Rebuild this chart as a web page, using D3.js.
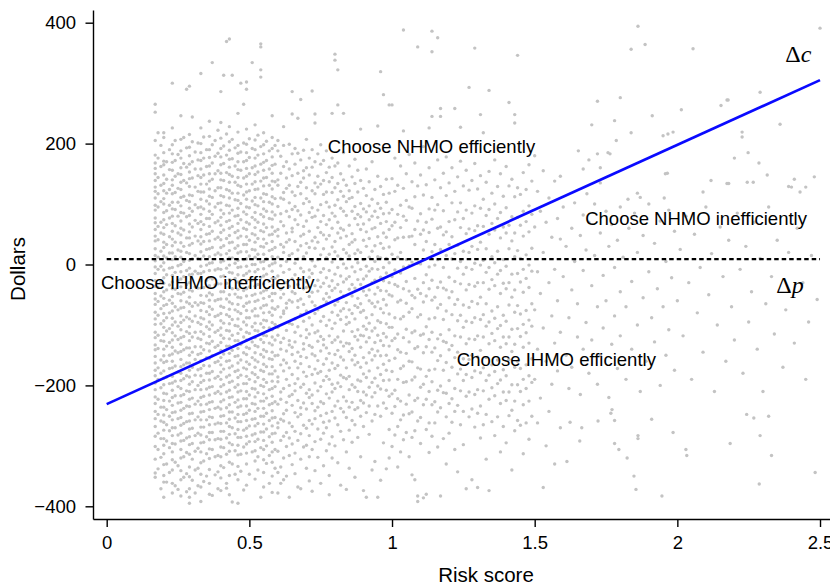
<!DOCTYPE html>
<html>
<head>
<meta charset="utf-8">
<script src="https://cdn.jsdelivr.net/npm/d3@7"></script>
<style>
  body { margin: 0; background: #fff; }
  svg { display: block; }
</style>
</head>
<body>
<svg id="chart" width="830" height="585"></svg>
<script>
// Risk-score bins with the dollar values of the enrollees in each bin
const lowRiskBins = [
  [0.17, [265, 252, 205, 181, 168, 159, 150, 139, 128, 121, 110, 98, 90, 77, 69, 58, 47, 39, 26, 15, 6, -4, -15, -27, -36, -48, -57, -66, -79, -90, -99, -112, -121, -133, -141, -152, -163, -175, -184, -196, -207, -219, -230, -243, -255, -268, -284, -301, -322, -345, -352]],
  [0.18, [218, 176, 144, 117, 95, 63, 41, 12, -8, -38, -61, -84, -117, -139, -171, -190, -223, -248, -279, -306, -338]],
  [0.19, [197, 162, 131, 104, 70, 52, 22, -3, -29, -52, -73, -98, -126, -158, -180, -204, -236, -259, -288, -319, -371]],
  [0.20, [218, 210, 185, 171, 165, 148, 134, 122, 109, 100, 86, 74, 61, 50, 37, 28, 14, 3, -9, -22, -31, -45, -56, -68, -81, -93, -104, -116, -127, -140, -151, -162, -176, -188, -199, -213, -225, -236, -249, -261, -274, -288, -299, -313, -331, -349, -360, -385]],
  [0.21, [170, 141, 118, 89, 66, 33, 11, -17, -42, -66, -88, -110, -135, -160, -186, -214, -240, -265, -292, -330, -360]],
  [0.22, [190, 157, 124, 98, 77, 46, 19, -6, -34, -59, -80, -106, -129, -150, -172, -197, -226, -251, -275, -303, -344]],
  [0.23, [300, 226, 198, 183, 169, 156, 140, 131, 117, 103, 92, 80, 68, 55, 42, 31, 19, 8, -5, -18, -29, -40, -53, -64, -77, -89, -100, -113, -125, -137, -148, -160, -171, -185, -196, -208, -220, -233, -245, -257, -270, -283, -296, -310, -323, -340, -362, -378]],
  [0.24, [205, 172, 146, 119, 91, 64, 37, 13, -13, -41, -70, -95, -118, -143, -168, -193, -217, -244, -270, -297, -327, -366]],
  [0.25, [182, 150, 126, 103, 80, 52, 24, -2, -27, -48, -75, -102, -124, -146, -178, -202, -229, -255, -282, -333, -372]],
  [0.26, [246, 207, 188, 176, 160, 149, 136, 124, 111, 97, 86, 72, 60, 49, 36, 22, 12, 0, -12, -24, -37, -49, -60, -72, -85, -96, -108, -121, -132, -144, -157, -169, -180, -192, -205, -217, -228, -241, -253, -266, -279, -292, -306, -320, -341, -356, -383]],
  [0.27, [210, 167, 139, 113, 85, 57, 30, 5, -20, -46, -71, -92, -119, -141, -166, -189, -215, -238, -263, -291, -318, -352]],
  [0.28, [290, 193, 161, 135, 106, 79, 44, 20, -10, -33, -62, -87, -111, -138, -163, -184, -209, -234, -260, -287, -311, -346, -376]],
  [0.29, [295, 215, 194, 180, 166, 153, 142, 129, 115, 104, 93, 81, 67, 54, 44, 32, 18, 7, -6, -17, -30, -42, -54, -65, -78, -90, -103, -114, -126, -138, -150, -163, -175, -186, -198, -210, -223, -235, -247, -259, -272, -285, -298, -314, -335, -351, -371, -385, -395]],
  [0.30, [244, 203, 170, 143, 114, 88, 62, 35, 9, -16, -44, -69, -94, -120, -145, -170, -194, -221, -246, -271, -296, -322, -357]],
  [0.31, [186, 158, 128, 99, 73, 47, 15, -11, -37, -63, -85, -112, -136, -157, -183, -207, -231, -257, -283, -309, -340, -378]],
  [0.32, [201, 173, 147, 121, 94, 68, 39, 10, -15, -39, -67, -96, -122, -149, -174, -200, -226, -252, -279, -304, -337, -366]],
  [0.33, [316, 226, 200, 185, 172, 158, 144, 133, 120, 108, 95, 83, 71, 58, 46, 34, 21, 9, -3, -15, -27, -39, -51, -63, -76, -88, -99, -111, -124, -136, -147, -159, -172, -184, -195, -207, -220, -232, -244, -257, -269, -282, -295, -310, -328, -347, -368, -392]],
  [0.34, [211, 176, 148, 120, 92, 66, 38, 14, -12, -38, -64, -90, -115, -141, -167, -192, -218, -243, -269, -294, -325, -359]],
  [0.35, [190, 162, 133, 105, 76, 50, 25, -1, -26, -52, -78, -103, -130, -154, -180, -206, -231, -257, -285, -313, -350]],
  [0.36, [237, 212, 190, 177, 163, 150, 138, 125, 113, 100, 88, 76, 63, 51, 39, 26, 13, 2, -10, -22, -35, -47, -59, -70, -83, -95, -107, -119, -131, -143, -155, -168, -180, -191, -203, -216, -228, -240, -252, -265, -278, -290, -305, -321, -339, -362, -380]],
  [0.37, [334, 198, 168, 141, 111, 83, 55, 28, 3, -24, -50, -74, -100, -127, -151, -177, -202, -227, -253, -278, -306, -382]],
  [0.38, [205, 179, 150, 122, 95, 69, 42, 16, -9, -34, -60, -86, -112, -137, -162, -188, -213, -238, -264, -290, -318, -348]],
  [0.39, [222, 184, 155, 127, 101, 72, 45, 19, -7, -32, -58, -84, -109, -134, -160, -185, -210, -236, -262, -288, -316, -343, -371]],
  [0.40, [286, 235, 209, 192, 178, 165, 151, 140, 127, 114, 102, 90, 78, 65, 53, 41, 28, 16, 4, -8, -20, -32, -45, -57, -69, -81, -93, -105, -117, -129, -142, -154, -166, -178, -190, -202, -214, -227, -239, -251, -263, -276, -289, -302, -318, -333, -353, -374]],
  [0.41, [313, 196, 167, 139, 112, 84, 57, 31, 6, -19, -45, -71, -97, -122, -148, -173, -199, -224, -250, -276, -303, -336]],
  [0.42, [369, 216, 181, 152, 124, 98, 71, 43, 18, -6, -31, -57, -83, -109, -135, -160, -186, -211, -237, -262, -287, -314, -362, -370]],
  [0.43, [373, 228, 203, 189, 174, 161, 149, 136, 122, 110, 97, 85, 73, 60, 48, 36, 23, 11, -1, -13, -25, -37, -50, -62, -74, -86, -98, -110, -123, -135, -147, -159, -171, -183, -195, -208, -220, -232, -244, -256, -268, -281, -295, -309, -327, -349, -381]],
  [0.44, [313, 207, 175, 146, 118, 90, 63, 37, 11, -14, -40, -65, -91, -117, -142, -168, -193, -219, -244, -270, -298, -330, -393]],
  [0.45, [193, 163, 136, 107, 80, 53, 27, 2, -23, -49, -75, -101, -126, -152, -177, -203, -228, -254, -280, -308, -347]],
  [0.46, [250, 219, 197, 184, 170, 157, 144, 131, 118, 106, 93, 81, 68, 56, 44, 31, 19, 7, -5, -17, -29, -41, -54, -66, -78, -90, -102, -114, -126, -139, -151, -163, -175, -187, -199, -211, -224, -236, -248, -260, -273, -286, -299, -315, -334, -356, -395]],
  [0.47, [300, 186, 156, 129, 101, 74, 47, 21, -4, -30, -55, -81, -107, -132, -158, -183, -209, -234, -260, -286, -314, -342]],
  [0.48, [265, 201, 170, 143, 115, 87, 60, 33, 8, -18, -43, -69, -95, -120, -146, -171, -197, -222, -248, -274, -302, -373]],
  [0.49, [302, 290, 224, 199, 185, 172, 159, 146, 133, 120, 108, 95, 83, 70, 58, 46, 33, 21, 9, -3, -15, -27, -40, -52, -64, -76, -88, -100, -112, -125, -137, -149, -161, -173, -185, -197, -210, -222, -234, -246, -258, -271, -284, -297, -312, -330, -365]],
  [0.50, [208, 177, 150, 122, 94, 67, 40, 14, -11, -37, -62, -88, -114, -139, -165, -190, -216, -241, -267, -293, -347]],
  [0.51, [334, 192, 160, 133, 105, 78, 51, 25, 0, -26, -51, -77, -103, -128, -154, -179, -205, -230, -256, -282, -310]],
  [0.52, [231, 206, 190, 176, 163, 149, 137, 124, 111, 99, 86, 74, 61, 49, 37, 24, 12, 0, -12, -24, -36, -49, -61, -73, -85, -97, -109, -121, -134, -146, -158, -170, -182, -194, -206, -219, -231, -243, -255, -267, -280, -293, -308, -325, -355]],
  [0.53, [214, 181, 153, 125, 97, 70, 43, 17, -8, -33, -59, -85, -110, -136, -161, -187, -212, -238, -263, -289, -318, -340]],
  [0.54, [365, 360, 322, 310, 195, 166, 138, 110, 83, 56, 30, 4, -21, -47, -72, -98, -124, -149, -175, -200, -226, -251, -277, -303, -385]],
  [0.55, [218, 198, 183, 169, 156, 143, 130, 117, 104, 92, 79, 67, 54, 42, 29, 17, 5, -7, -19, -32, -44, -56, -68, -80, -92, -104, -117, -129, -141, -153, -165, -177, -190, -202, -214, -226, -238, -251, -264, -277, -291, -306, -323, -344, -368]],
  [0.56, [204, 172, 144, 116, 88, 61, 35, 9, -16, -42, -67, -93, -118, -144, -169, -195, -221, -246, -272, -300, -329]],
  [0.57, [188, 158, 131, 103, 76, 49, 23, -2, -28, -53, -79, -105, -130, -156, -181, -207, -232, -258, -285, -316, -362]],
  [0.58, [246, 210, 192, 178, 164, 151, 138, 125, 112, 100, 87, 75, 62, 50, 38, 25, 13, 1, -11, -23, -35, -48, -60, -72, -84, -96, -108, -120, -133, -145, -157, -169, -181, -193, -205, -218, -230, -242, -254, -267, -280, -294, -310, -327, -350, -377]],
  [0.59, [197, 166, 137, 109, 82, 55, 28, 3, -23, -48, -74, -99, -125, -151, -176, -202, -227, -253, -279, -306, -337]]
];

const midRiskBins = [
  [0.60, [205, 188, 140, 131, 96, 58, 47, 12, -19, -28, -70, -104, -117, -150, -186, -194, -231, -262, -270, -309, -344, -378]],
  [0.61, [179, 151, 110, 84, 71, 33, -2, -41, -55, -87, -129, -140, -166, -211, -223, -256, -291, -335, -362]],
  [0.62, [228, 197, 162, 119, 108, 64, 29, 20, -13, -49, -77, -81, -122, -158, -176, -205, -247, -259, -284, -320, -356]],
  [0.63, [170, 143, 126, 88, 52, 37, 5, -30, -64, -72, -109, -143, -163, -190, -228, -241, -278, -301, -350]],
  [0.64, [199, 158, 131, 102, 79, 41, 15, -8, -36, -59, -97, -126, -133, -171, -200, -218, -262, -287, -316, -385]],
  [0.65, [286, 249, 183, 147, 120, 91, 60, 54, 18, -24, -45, -62, -99, -137, -149, -182, -215, -233, -268, -297, -331]],
  [0.66, [192, 166, 114, 96, 74, 38, 2, -17, -48, -90, -112, -128, -160, -197, -209, -245, -276, -312, -346]],
  [0.67, [242, 184, 151, 129, 89, 66, 24, 9, -33, -60, -71, -103, -145, -171, -189, -225, -252, -291, -368]],
  [0.68, [273, 173, 136, 117, 82, 47, 31, -6, -25, -57, -83, -118, -152, -164, -203, -237, -248, -280, -322, -371]],
  [0.69, [189, 155, 143, 101, 63, 50, 13, -12, -40, -66, -94, -131, -140, -178, -198, -229, -266, -302]],
  [0.70, [207, 160, 127, 109, 72, 35, 19, -29, -38, -77, -108, -121, -154, -185, -213, -239, -271, -299, -337]],
  [0.71, [176, 148, 104, 86, 55, 28, -9, -21, -53, -88, -115, -134, -169, -207, -220, -258, -283, -318, -358]],
  [0.72, [287, 190, 161, 122, 94, 78, 39, 6, -15, -46, -62, -100, -137, -148, -182, -216, -230, -264, -306, -375]],
  [0.73, [249, 234, 170, 135, 117, 80, 45, 27, -3, -35, -68, -81, -113, -151, -173, -196, -242, -255, -293, -341]],
  [0.74, [183, 146, 128, 90, 61, 37, 8, -26, -44, -75, -110, -127, -159, -180, -209, -236, -272, -319]],
  [0.75, [198, 166, 133, 99, 71, 53, 16, -13, -37, -70, -94, -119, -143, -177, -202, -227, -250, -289, -362]],
  [0.76, [172, 139, 116, 81, 49, 26, -7, -31, -57, -86, -124, -133, -165, -192, -230, -261, -279, -333]],
  [0.77, [188, 152, 120, 103, 66, 42, 11, -22, -48, -62, -101, -138, -156, -185, -214, -246, -270, -308]],
  [0.78, [161, 137, 95, 74, 48, 17, -10, -36, -54, -92, -118, -147, -175, -190, -221, -259, -297, -349, -381]],
  [0.79, [250, 176, 144, 119, 85, 60, 29, 4, -27, -43, -79, -106, -129, -163, -198, -211, -243, -285, -320]],
  [0.80, [348, 338, 163, 127, 98, 80, 38, 21, -16, -39, -67, -97, -125, -149, -172, -205, -234, -254, -300]],
  [0.81, [322, 264, 168, 134, 107, 70, 52, 14, -5, -33, -61, -84, -120, -142, -167, -196, -226, -265, -328]],
  [0.82, [150, 121, 93, 60, 44, 9, -19, -45, -77, -91, -128, -153, -183, -202, -238, -276, -365]],
  [0.83, [250, 185, 140, 113, 88, 57, 25, 1, -29, -52, -73, -110, -135, -158, -187, -219, -244, -290]],
  [0.84, [131, 104, 81, 47, 19, -6, -24, -63, -87, -99, -130, -171, -189, -226, -253, -310, -372]],
  [0.85, [163, 122, 109, 65, 33, 14, -20, -41, -75, -96, -131, -144, -185, -207, -236, -274, -337]],
  [0.86, [145, 111, 88, 51, 37, -4, -33, -52, -81, -111, -139, -158, -199, -228, -258, -294]],
  [0.87, [174, 134, 96, 76, 41, 18, -12, -39, -68, -90, -119, -150, -166, -203, -240, -265, -352]],
  [0.88, [156, 120, 83, 66, 24, 3, -25, -56, -71, -108, -125, -162, -191, -210, -237, -286]],
  [0.89, [224, 139, 101, 79, 58, 20, -8, -33, -65, -79, -117, -137, -170, -193, -225, -251, -318]],
  [0.90, [126, 92, 67, 40, 8, -24, -44, -76, -102, -118, -154, -181, -211, -229, -268, -374]],
  [0.91, [158, 114, 87, 54, 30, -3, -19, -51, -88, -107, -128, -163, -187, -216, -245, -385]],
  [0.92, [137, 97, 74, 43, 12, -11, -42, -60, -97, -121, -146, -176, -203, -234, -281]],
  [0.93, [170, 108, 80, 59, 22, -7, -30, -64, -83, -110, -140, -158, -195, -219, -259, -340]],
  [0.94, [124, 88, 61, 31, 5, -26, -49, -70, -105, -129, -151, -188, -212, -248, -326]],
  [0.95, [229, 146, 101, 78, 46, 13, -8, -38, -62, -93, -117, -143, -171, -201, -234, -385]],
  [0.96, [319, 129, 93, 68, 35, 11, -21, -43, -73, -96, -126, -151, -182, -206, -251, -357]],
  [0.97, [281, 116, 84, 52, 27, -5, -27, -58, -80, -114, -134, -165, -192, -229, -295]],
  [0.98, [141, 103, 71, 45, 10, -14, -44, -67, -98, -120, -150, -175, -208, -238, -338]],
  [0.99, [264, 118, 85, 58, 29, 3, -30, -50, -82, -104, -135, -159, -191, -218, -273, -320]]
];

const highRiskBins = [
  [1.00, [264, 142, 91, 64, 17, -20, -52, -104, -126, -177, -214, -246, -301]],
  [1.01, [176, 121, 70, 41, -9, -33, -88, -122, -155, -208, -235, -282]],
  [1.02, [131, 83, 44, 12, -36, -62, -115, -141, -190, -222, -268, -335]],
  [1.03, [163, 98, 61, 20, -14, -59, -90, -145, -172, -226, -257, -310]],
  [1.04, [388, 221, 126, 80, 45, -4, -40, -86, -121, -168, -195, -249, -290]],
  [1.05, [150, 106, 73, 8, -28, -64, -107, -147, -194, -231, -278]],
  [1.06, [182, 95, 46, -2, -44, -79, -128, -160, -216, -247, -318]],
  [1.07, [137, 93, 47, 4, -51, -73, -113, -161, -191, -244, -286, -348]],
  [1.08, [168, 112, 58, 33, -23, -55, -110, -139, -186, -225, -275, -356]],
  [1.09, [360, 130, 72, 2, -41, -87, -136, -171, -221, -259, -383, -392]],
  [1.10, [148, 84, 50, 1, -48, -83, -117, -173, -203, -253, -296]],
  [1.11, [195, 115, 57, 24, -30, -62, -115, -146, -198, -232, -386]],
  [1.12, [132, 70, 38, -17, -52, -103, -136, -185, -223, -273, -380]],
  [1.13, [226, 160, 92, 53, -4, -40, -90, -124, -175, -210, -262, -311]],
  [1.14, [386, 352, 245, 111, 75, 21, -26, -59, -112, -145, -194, -232, -284]],
  [1.15, [140, 90, 33, -1, -54, -88, -138, -173, -227, -262]],
  [1.16, [375, 173, 99, 60, 8, -38, -72, -123, -159, -208, -244, -302]],
  [1.17, [258, 245, 127, 62, 25, -29, -66, -116, -151, -201, -237, -383]],
  [1.18, [151, 89, 49, -5, -39, -91, -127, -175, -212, -288]],
  [1.19, [178, 114, 54, 15, -42, -77, -129, -162, -213, -252, -330]],
  [1.20, [135, 71, 33, -21, -55, -108, -141, -192, -230, -279]],
  [1.21, [160, 102, 46, 9, -45, -83, -134, -170, -222, -261]],
  [1.22, [258, 121, 74, 18, -28, -66, -118, -154, -205, -243, -306]],
  [1.23, [145, 87, 32, -6, -58, -93, -145, -181, -233, -343]],
  [1.24, [227, 171, 102, 61, 5, -32, -84, -120, -173, -209, -265]],
  [1.25, [130, 76, 22, -16, -67, -104, -156, -192, -243, -298]],
  [1.26, [156, 90, 51, -5, -42, -94, -131, -182, -218, -371]],
  [1.27, [293, 123, 59, 20, -33, -71, -123, -157, -211, -252]],
  [1.28, [139, 85, 30, -8, -61, -96, -150, -187, -239, -356]],
  [1.29, [358, 167, 97, 56, 2, -36, -88, -124, -176, -215, -269]],
  [1.30, [125, 64, 25, -30, -65, -118, -153, -207, -246, -369]],
  [1.31, [248, 147, 93, 37, -1, -54, -91, -142, -179, -234, -287]],
  [1.32, [218, 108, 63, 7, -30, -83, -120, -171, -209, -265]],
  [1.33, [136, 81, 26, -13, -65, -102, -154, -192, -248, -322]],
  [1.34, [288, 154, 91, 50, -5, -41, -95, -131, -183, -223, -374]],
  [1.35, [118, 68, 13, -25, -77, -114, -166, -204, -260]],
  [1.36, [173, 100, 57, 3, -35, -89, -126, -177, -217, -283]],
  [1.37, [129, 76, 22, -16, -70, -106, -158, -197, -252]],
  [1.38, [150, 86, 44, -10, -48, -101, -137, -191, -230, -310]],
  [1.39, [113, 62, 8, -31, -84, -120, -174, -211, -268]],
  [1.40, [162, 94, 52, -3, -40, -94, -131, -184, -225, -295]],
  [1.41, [268, 130, 65, 26, -30, -67, -120, -157, -211, -250]],
  [1.42, [141, 79, 39, -16, -54, -107, -144, -199, -241, -340]],
  [1.43, [248, 234, 112, 52, 13, -42, -79, -132, -170, -226, -275]],
  [1.44, [346, 127, 78, 23, -15, -68, -106, -160, -199, -258]],
  [1.45, [116, 65, 10, -29, -82, -119, -172, -210, -266]],
  [1.46, [152, 88, 47, -8, -46, -99, -137, -190, -232, -313]],
  [1.47, [124, 71, 16, -23, -76, -113, -166, -205, -262]],
  [1.48, [165, 97, 54, -1, -38, -92, -130, -184, -226, -289]],
  [1.49, [138, 83, 27, -11, -65, -102, -156, -195, -251]]
];

// sparse right-hand side: [risk score, dollars]
const tailPoints = [
  [1.50, 180], [1.50, 62], [1.50, -75], [1.50, -190], [1.51, 121], [1.51, -12], [1.51, -140], [1.51, -262],
  [1.52, 88], [1.52, -48], [1.52, -221], [1.53, -369], [1.53, 155], [1.53, 20], [1.53, -105], [1.54, -300],
  [1.54, 70], [1.54, -160], [1.55, -30], [1.55, 110], [1.55, -243], [1.56, 45], [1.56, -85], [1.56, -198],
  [1.57, 138], [1.57, -8], [1.57, -130], [1.57, -330], [1.58, 76], [1.58, -60], [1.58, -176], [1.59, 146],
  [1.59, 42], [1.59, -112], [1.59, -270],
  [1.60, 95], [1.60, -20], [1.61, -150], [1.61, 30], [1.62, -88], [1.62, -205], [1.63, 60], [1.63, -42],
  [1.63, -170], [1.64, 102], [1.64, 5], [1.65, -120], [1.65, -65], [1.66, 48], [1.66, -215], [1.67, 82],
  [1.67, -10], [1.67, -140], [1.68, 24], [1.68, -96], [1.69, -180], [1.69, 70], [1.70, -35], [1.70, -125],
  [1.71, 100], [1.71, 15], [1.72, -70], [1.72, -198], [1.73, 52], [1.73, -150], [1.74, -18], [1.74, -105],
  [1.75, 88], [1.75, -60], [1.76, 30], [1.76, -220], [1.77, -132], [1.77, 66], [1.78, -5], [1.78, -85],
  [1.79, 40], [1.79, -172], [1.80, 95], [1.80, -45], [1.80, -118],
  [1.81, 12], [1.82, -70], [1.82, -190], [1.83, 60], [1.84, -28], [1.84, -140], [1.85, 85], [1.86, -100],
  [1.86, 20], [1.87, -210], [1.88, -55], [1.88, 48], [1.89, -160], [1.90, -12], [1.90, 100], [1.91, -88],
  [1.92, 35], [1.92, -128], [1.93, -40], [1.94, 72], [1.94, -200], [1.95, -70], [1.96, 5], [1.96, -150],
  [1.97, 90], [1.97, -108], [1.98, -22], [1.99, 55], [1.99, -175], [2.00, -60],
  [2.01, 25], [2.02, -118], [2.03, 80], [2.04, -30], [2.05, -190], [2.06, 50], [2.07, -80], [2.08, -5],
  [2.09, -145], [2.10, 95], [2.11, -50], [2.12, 18], [2.13, -210], [2.14, -100], [2.15, 62], [2.16, -20],
  [2.17, -160], [2.18, 40], [2.19, -70], [2.20, -125],
  [2.21, 85], [2.22, -8], [2.23, -180], [2.24, 30], [2.25, -95], [2.26, -45], [2.27, 70], [2.28, -140],
  [2.29, 10], [2.30, -210], [2.31, -65], [2.32, 95], [2.33, -20], [2.34, -115], [2.35, 40], [2.37, -170],
  [2.38, -75], [2.39, 20], [2.41, -130], [2.42, 60], [2.44, -30], [2.45, -190], [2.46, -95], [2.47, 15],
  [2.49, -58],
  [1.862, 394], [1.887, 364], [1.838, 356], [2.055, 357], [2.50, 391], [1.72, 270], [1.80, 276], [1.70, 231],
  [1.78, 238], [1.786, 205], [1.838, 218], [1.912, 246], [2.014, 256], [2.153, 263], [2.174, 272], [2.178, 272],
  [2.29, 285], [2.36, 232], [2.227, 219], [2.227, 211], [1.95, 213], [1.967, 216], [1.985, 219], [1.653, 188],
  [1.72, 183], [1.757, 185], [1.764, 183], [1.69, 173], [1.67, 158], [1.73, 160], [2.248, 185], [2.20, 176],
  [2.286, 168], [1.958, 150], [1.965, 151], [2.118, 139], [2.174, 134], [2.18, 134], [2.245, 136], [2.266, 136],
  [2.315, 148], [2.41, 141], [2.39, 129], [2.40, 128], [2.45, 128], [2.43, 120], [2.48, 145], [1.683, 117],
  [1.73, 135], [1.86, 118], [1.87, 111], [1.827, 108], [2.09, 120], [1.954, 110],
  [1.624, -261], [1.665, -270], [1.658, -292], [1.613, -326], [1.722, -259], [1.767, -246], [1.771, -240],
  [1.78, -258], [1.78, -296], [1.795, -306], [1.824, -320], [1.848, -350], [1.855, -372], [1.862, -283],
  [1.862, -288], [1.91, -256], [1.946, -383], [1.985, -278], [2.03, -306], [2.033, -316], [2.185, -296],
  [2.243, -248], [2.268, -254], [2.32, -251], [2.29, -283], [2.33, -316], [2.287, -363], [2.483, -344]
];

const lineRisk = [0, 2.5];
const deltaC = [-231, 305];
const deltaP = 9;
const xTicks = [0, 0.5, 1, 1.5, 2, 2.5];
const yTicks = [-400, -200, 0, 200, 400];
const regionLabels = ['Choose NHMO efficiently', 'Choose NHMO inefficiently', 'Choose IHMO inefficiently', 'Choose IHMO efficiently'];

const svg = d3.select('#chart');
const sans = '"Liberation Sans", Arial, Helvetica, sans-serif';
const serif = '"Liberation Serif", "Times New Roman", serif';

const x = d3.scaleLinear().domain([-0.048, 2.535]).range([93, 830]);
const y = d3.scaleLinear().domain([-421, 421]).range([519, 10]);

// flatten the bins into points
const points = [];
[lowRiskBins, midRiskBins, highRiskBins].forEach(bins => {
    bins.forEach(([risk, dollars]) => dollars.forEach(d => points.push([risk, d])));
});
tailPoints.forEach(p => points.push(p));

svg.append('g')
    .attr('class', 'points')
    .selectAll('circle')
    .data(points)
    .join('circle')
    .attr('cx', d => x(d[0]))
    .attr('cy', d => y(d[1]))
    .attr('r', 1.7)
    .attr('fill', '#c3c3c3');

// axes
const yAxis = svg.append('g')
    .attr('transform', 'translate(93,0)')
    .call(d3.axisLeft(y)
        .tickValues(yTicks)
        .tickSize(7.5)
        .tickPadding(9.5)
        .tickSizeOuter(0)
        .tickFormat(d => d < 0 ? '\u2212' + Math.abs(d) : d));

const xAxis = svg.append('g')
    .attr('transform', 'translate(0,519)')
    .call(d3.axisBottom(x)
        .tickValues(xTicks)
        .tickSize(8)
        .tickPadding(9)
        .tickSizeOuter(0)
        .tickFormat(d => String(d)));

[xAxis, yAxis].forEach(a => {
    a.selectAll('path, line').attr('stroke', '#000').attr('stroke-width', 1.4);
    a.selectAll('text').attr('font-family', sans).attr('font-size', '18.5px').attr('fill', '#000');
});

// delta p (dashed) and delta c (blue)
const line = d3.line().x(d => x(d[0])).y(d => y(d[1]));

svg.append('path')
    .attr('d', line(lineRisk.map(r => [r, deltaP])))
    .attr('fill', 'none')
    .attr('stroke', '#000')
    .attr('stroke-width', 2.3)
    .attr('stroke-dasharray', '4.5,3');

svg.append('path')
    .attr('d', line(lineRisk.map((r, i) => [r, deltaC[i]])))
    .attr('fill', 'none')
    .attr('stroke', '#0a0aff')
    .attr('stroke-width', 2.7);

// region labels, placed in data units
const labelAnchors = [[0.775, 185], [1.677, 65], [-0.02, -41], [1.227, -168]];
svg.append('g')
    .selectAll('text')
    .data(regionLabels)
    .join('text')
    .attr('x', (d, i) => x(labelAnchors[i][0]))
    .attr('y', (d, i) => y(labelAnchors[i][1]))
    .attr('font-family', sans)
    .attr('font-size', '18.5px')
    .attr('fill', '#000')
    .text(d => d);

// line names
const dc = svg.append('text')
    .attr('x', x(2.378))
    .attr('y', y(335))
    .attr('font-family', serif)
    .attr('font-size', '24px');
dc.append('tspan').text('\u0394');
dc.append('tspan').attr('font-style', 'italic').text('c');

const dp = svg.append('text')
    .attr('x', x(2.347))
    .attr('y', y(-47))
    .attr('font-family', serif)
    .attr('font-size', '24px');
dp.append('tspan').text('\u0394');
dp.append('tspan').attr('font-style', 'italic').text('p');

// axis titles
svg.append('text')
    .attr('x', 486)
    .attr('y', 582)
    .attr('text-anchor', 'middle')
    .attr('font-family', sans)
    .attr('font-size', '20.5px')
    .text('Risk score');

svg.append('text')
    .attr('transform', 'translate(25,269) rotate(-90)')
    .attr('text-anchor', 'middle')
    .attr('font-family', sans)
    .attr('font-size', '20.5px')
    .text('Dollars');
</script>
</body>
</html>
